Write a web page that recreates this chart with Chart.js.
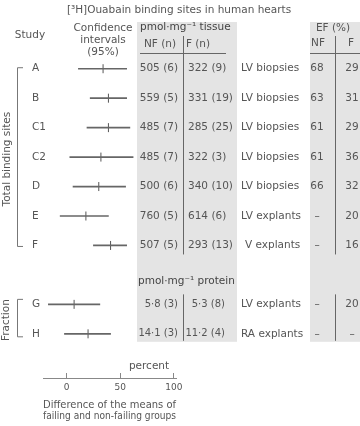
<!DOCTYPE html>
<html>
<head>
<meta charset="utf-8">
<script src="https://cdn.jsdelivr.net/npm/chart.js@4.4.1/dist/chart.umd.min.js"></script>
<style>
  html, body { margin: 0; padding: 0; background: #fff; }
  #wrap { width: 360px; height: 426px; }
</style>
</head>
<body>
<div id="wrap"><canvas id="ouabainchart" width="360" height="426"></canvas></div>
<script>
/* global Chart*/
'use strict';

var studies = ['A', 'B', 'C1', 'C2', 'D', 'E', 'F', 'G', 'H'];
var groupOf = [0, 0, 0, 0, 0, 0, 0, 1, 1];
var groupNames = ['Total binding sites', 'Fraction'];
var meanDiff = [34, 39, 39, 32, 30, 18, 41, 7, 20];
var ciLow = [11, 22, 19, 3, 6, -6, 25, -17, -2];
var ciHigh = [56, 56, 59, 62, 55, 39, 56, 31, 41];
var nfValues = ['505 (6)', '559 (5)', '485 (7)', '485 (7)', '500 (6)', '760 (5)', '507 (5)', '5·8 (3)', '14·1 (3)'];
var fValues = ['322 (9)', '331 (19)', '285 (25)', '322 (3)', '340 (10)', '614 (6)', '293 (13)', '5·3 (8)', '11·2 (4)'];
var tissue = ['LV biopsies', 'LV biopsies', 'LV biopsies', 'LV biopsies', 'LV biopsies', 'LV explants', 'V explants', 'LV explants', 'RA explants'];
var efNF = ['68', '63', '61', '61', '66', '–', '–', '–', '–'];
var efF = ['29', '31', '29', '36', '32', '20', '16', '20', '–'];
var tickValues = [0, 50, 100];

var FONT = 'DejaVu Sans';
var INK = '#555';

// rows of the y axis: a blank slot between the two groups and one under the last row
var rows = [];
studies.forEach(function (s, i) {
  if (i > 0 && groupOf[i] !== groupOf[i - 1]) rows.push(' ');
  rows.push(s);
});
rows.push('  ');

function byRow(fn) {
  return rows.map(function (label) {
    var i = studies.indexOf(label);
    return i < 0 ? null : fn(i);
  });
}

function txt(c, s, x, y, align, size, color) {
  c.font = (size || 10.5) + 'px "' + FONT + '"';
  c.fillStyle = color || INK;
  c.textAlign = align || 'left';
  c.textBaseline = 'middle';
  c.fillText(s, x, y);
}

function line(c, x1, y1, x2, y2) {
  c.beginPath();
  c.moveTo(x1, y1);
  c.lineTo(x2, y2);
  c.stroke();
}

var tablePlugin = {
  id: 'tablePlugin',
  beforeDraw: function (chart) {
    var c = chart.ctx;
    var ys = chart.scales.y;
    var bottom = ys.getPixelForValue(rows.indexOf('H')) + 8;
    c.save();
    c.fillStyle = '#e4e4e4';
    c.fillRect(137, 22, 100, bottom - 22);
    c.fillRect(310, 22, 50, bottom - 22);
    c.restore();
  },
  afterDraw: function (chart) {
    var c = chart.ctx;
    var ys = chart.scales.y;
    var rowY = function (i) { return ys.getPixelForValue(rows.indexOf(studies[i])); };
    c.save();

    // headers
    txt(c, '[³H]Ouabain binding sites in human hearts', 179, 10, 'center');
    txt(c, 'Study', 30, 35, 'center');
    txt(c, 'Confidence', 103, 28, 'center');
    txt(c, 'intervals', 103, 40, 'center');
    txt(c, '(95%)', 103, 52, 'center');
    txt(c, 'pmol·mg⁻¹ tissue', 140, 27, 'left', 10.5, '#444');
    txt(c, 'NF (n)', 160, 44, 'center');
    txt(c, 'F (n)', 198, 44, 'center');
    txt(c, 'EF (%)', 333, 28, 'center');
    txt(c, 'NF', 318, 43, 'center');
    txt(c, 'F', 351, 43, 'center');
    txt(c, 'pmol·mg⁻¹ protein', 138, 281, 'left', 10.5, '#444');

    c.strokeStyle = '#666';
    c.lineWidth = 1;
    line(c, 140, 53.5, 226, 53.5);
    line(c, 310, 53.5, 360, 53.5);

    var yF = rowY(6), yG = rowY(7), yA = rowY(0), yH = rowY(8);
    line(c, 183.5, 36, 183.5, yF + 9);
    line(c, 335.5, 36, 335.5, yF + 9);
    line(c, 183.5, yG - 10, 183.5, yH + 7);
    line(c, 335.5, yG - 10, 335.5, yH + 7);

    // table rows
    studies.forEach(function (s, i) {
      var yy = rowY(i);
      if (groupOf[i] === 0) {
        txt(c, nfValues[i], 178, yy, 'right');
        txt(c, fValues[i], 188, yy, 'left');
      } else {
        txt(c, nfValues[i], 178, yy, 'right', 10);
        txt(c, fValues[i], 225, yy, 'right', 10);
      }
      txt(c, tissue[i], tissue[i].charAt(0) === 'V' ? 245 : 241, yy, 'left');
      txt(c, efNF[i], 317, yy, 'center');
      txt(c, efF[i], 352, yy, 'center');
    });

    // group brackets and names
    c.strokeStyle = '#777';
    c.beginPath();
    c.moveTo(23, yA - 1); c.lineTo(17.5, yA - 1); c.lineTo(17.5, yF + 1); c.lineTo(23, yF + 1);
    c.moveTo(23, yG - 5); c.lineTo(17.5, yG - 5); c.lineTo(17.5, yH + 3); c.lineTo(23, yH + 3);
    c.stroke();

    c.translate(7, (yA + yF) / 2 + 2);
    c.rotate(-Math.PI / 2);
    txt(c, groupNames[0], 0, 0, 'center');
    c.setTransform(1, 0, 0, 1, 0, 0);
    c.translate(6, (yG + yH) / 2 + 1);
    c.rotate(-Math.PI / 2);
    txt(c, groupNames[1], 0, 0, 'center');
    c.setTransform(1, 0, 0, 1, 0, 0);

    txt(c, 'percent', 149, 366, 'center');
    c.restore();
  }
};

var ctx = document.getElementById('ouabainchart');
new Chart(ctx, {
  type: 'bar',
  data: {
    labels: rows,
    datasets: [{
      data: byRow(function (i) { return [ciLow[i], ciHigh[i]]; }),
      backgroundColor: '#666',
      borderWidth: 0,
      barThickness: 1,
      grouped: false
    }, {
      type: 'line',
      data: byRow(function (i) { return meanDiff[i]; }),
      showLine: false,
      pointStyle: 'line',
      rotation: 90,
      radius: 4.5,
      borderColor: '#555',
      borderWidth: 1
    }]
  },
  options: {
    indexAxis: 'y',
    responsive: false,
    animation: false,
    events: [],
    layout: { padding: { left: 32, right: 184, top: 54, bottom: 0 } },
    plugins: { legend: { display: false }, tooltip: { enabled: false } },
    scales: {
      x: {
        type: 'linear',
        min: -22,
        max: 102,
        afterBuildTicks: function (scale) {
          scale.ticks = tickValues.map(function (v) { return { value: v }; });
        },
        afterFit: function (scale) {
          scale.height = 48;
          scale.paddingLeft = 0;
          scale.paddingRight = 0;
        },
        border: { display: true, color: '#888', width: 1 },
        grid: { display: true, drawOnChartArea: false, drawTicks: true, tickLength: -5, color: '#888' },
        ticks: { padding: 9, color: INK, font: { family: FONT, size: 9 }, maxRotation: 0 },
        title: {
          display: true,
          text: ['Difference of the means of', 'failing and non-failing groups'],
          color: INK,
          font: { family: FONT, size: 10.6, lineHeight: 1.05 },
          padding: { top: 0, bottom: 4.5 }
        }
      },
      y: {
        afterFit: function (scale) {
          scale.width = 11;
          scale.paddingTop = 0;
          scale.paddingBottom = 0;
        },
        border: { display: false },
        grid: { display: false },
        // mirrored so the labels are not clipped to the narrow axis box
        ticks: { mirror: true, padding: -11, autoSkip: false, color: INK, font: { family: FONT, size: 10.5 } }
      }
    }
  },
  plugins: [tablePlugin]
});
</script>
</body>
</html>
